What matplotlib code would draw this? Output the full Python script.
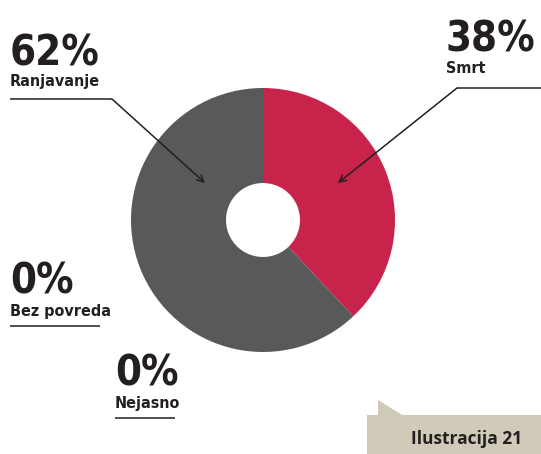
import matplotlib
matplotlib.use("Agg")
import matplotlib.pyplot as plt
from matplotlib.patches import Polygon, Rectangle
from matplotlib import font_manager as fm

categories = ["Smrt", "Ranjavanje", "Bez povreda", "Nejasno"]
values = [38, 62, 0, 0]
pct_labels = ["38%", "62%", "0%", "0%"]
colors = ["#C8234A", "#58595B", "#A7A9AC", "#D0CBB8"]
title_text = "Ilustracija 21"

W, H = 541, 454
fig = plt.figure(figsize=(W / 100, H / 100), dpi=100)
ax = fig.add_axes([0, 0, 1, 1])
ax.set_axis_off()

def Y(y):
    return H - y

# pick a narrow font if available
names = {f.name for f in fm.fontManager.ttflist}
cond = [f for f in fm.fontManager.ttflist
        if f.name == "DejaVu Sans" and "ondensed" in str(f.stretch) + f.fname and f.weight in ("bold", 700)]
if "Liberation Sans Narrow" in names:
    fam = ["Liberation Sans Narrow", "DejaVu Sans"]
    stretch = "normal"
    big_size, small_size = 33, 12.5
elif cond:
    fam = ["DejaVu Sans"]
    stretch = "condensed"
    big_size, small_size = 30, 11.5
else:
    fam = ["DejaVu Sans"]
    stretch = "normal"
    big_size, small_size = 27, 10.5

ax.pie(values, colors=colors, startangle=90, counterclock=False,
       center=(263, Y(220)), radius=132, frame=True,
       wedgeprops=dict(width=95, linewidth=0, edgecolor="none"))
ax.set_xlim(0, W)
ax.set_ylim(0, H)
ax.set_aspect("equal")
ax.set_axis_off()

dark = "#231F20"
big = dict(family=fam, weight="bold", fontstretch=stretch,
           fontsize=big_size, color=dark, va="baseline", ha="left")
small = dict(family=fam, weight="bold", fontstretch=stretch,
             fontsize=small_size, color=dark, va="baseline", ha="left")

# label layout in pixel coords
layout = {
    "Smrt": (446, 52, 73, 88, (457, 541)),
    "Ranjavanje": (10, 65, 86, 99, (10, 112)),
    "Bez povreda": (10, 293, 316, 326, (10, 100)),
    "Nejasno": (115, 386, 408, 418, (115, 175)),
}
arrow_tips = {"Smrt": (338, 183), "Ranjavanje": (205, 183)}
arrow_starts = {"Smrt": (457, 88), "Ranjavanje": (112, 99)}

for cat, pct in zip(categories, pct_labels):
    x, yb1, yb2, yu, (ux0, ux1) = layout[cat]
    ax.text(x, Y(yb1), pct, **big)
    ax.text(x, Y(yb2), cat, **small)
    ax.plot([ux0, ux1], [Y(yu), Y(yu)], color=dark, lw=1.1, solid_capstyle="butt")
    if cat in arrow_tips:
        sx, sy = arrow_starts[cat]
        tx, ty = arrow_tips[cat]
        ax.annotate("", xy=(tx, Y(ty)), xytext=(sx, Y(sy)),
                    arrowprops=dict(arrowstyle="->", color=dark, lw=1.1,
                                    shrinkA=0, shrinkB=0, mutation_scale=12))

beige = "#D0CBB8"
ax.add_patch(Rectangle((367, 0), W - 367, Y(415), facecolor=beige, edgecolor="none"))
ax.add_patch(Polygon([(378, Y(400)), (378, Y(416)), (404, Y(416))],
                     closed=True, facecolor=beige, edgecolor="none"))
ax.text(467, Y(444), title_text, family=["Open Sans", "DejaVu Sans"], weight="bold",
        fontsize=12.5, color=dark, ha="center", va="baseline")

fig.savefig("out.png", dpi=100)
